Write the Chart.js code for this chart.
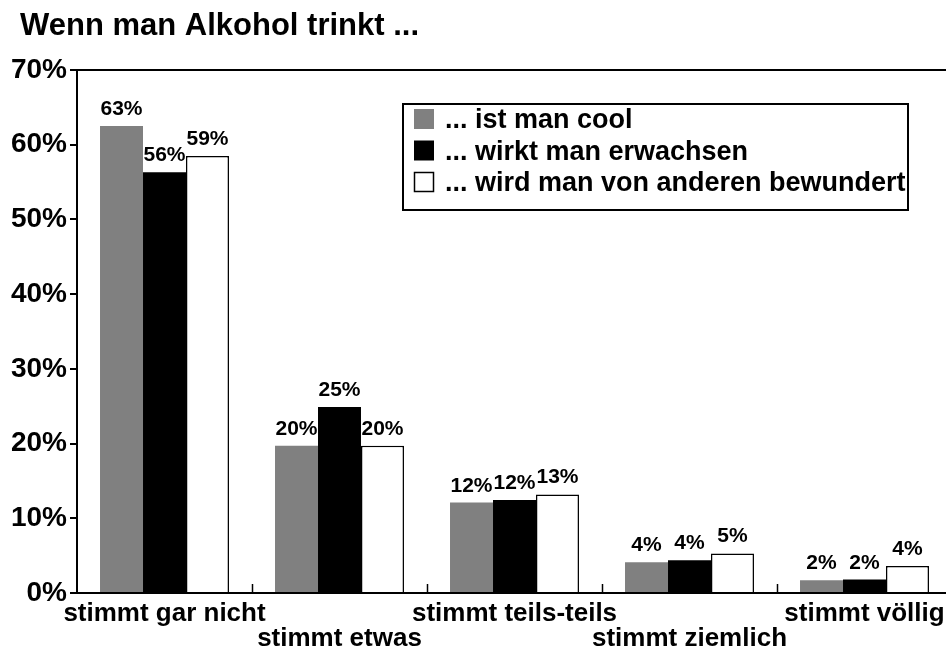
<!DOCTYPE html>
<html>
<head>
<meta charset="utf-8">
<script src="https://cdn.jsdelivr.net/npm/chart.js@4"></script>
<style>
  html, body { margin: 0; padding: 0; background: #fff; overflow: hidden; }
  #wrap { width: 946px; height: 652px; overflow: hidden; }
</style>
</head>
<body>
<div id="wrap"><canvas id="myChart" width="960" height="652"></canvas></div>
<script>
var title = 'Wenn man Alkohol trinkt ...';
var categories = ['stimmt gar nicht', 'stimmt etwas', 'stimmt teils-teils', 'stimmt ziemlich', 'stimmt völlig'];
var seriesNames = ['... ist man cool', '... wirkt man erwachsen', '... wird man von anderen bewundert'];
var cool = [62.5, 19.7, 12.1, 4.1, 1.7];
var erwachsen = [56.3, 24.9, 12.45, 4.4, 1.8];
var bewundert = [58.5, 19.7, 13.2, 5.3, 3.6];
// printed labels above the bars
var coolLabels = ['63%', '20%', '12%', '4%', '2%'];
var erwachsenLabels = ['56%', '25%', '12%', '4%', '2%'];
var bewundertLabels = ['59%', '20%', '13%', '5%', '4%'];
var yTicks = [0, 10, 20, 30, 40, 50, 60, 70];

var FONT = "'Liberation Sans', Arial, sans-serif";
Chart.defaults.font.family = FONT;
Chart.defaults.font.weight = 'bold';
Chart.defaults.color = '#000';

var extras = {
    id: 'extras',
    afterDatasetsDraw: function (chart) {
        var ctx = chart.ctx;
        ctx.save();
        ctx.font = 'bold 21px ' + FONT;
        ctx.fillStyle = '#000';
        ctx.textAlign = 'center';
        ctx.textBaseline = 'alphabetic';
        chart.data.datasets.forEach(function (ds, di) {
            chart.getDatasetMeta(di).data.forEach(function (bar, i) {
                ctx.fillText(ds.valueLabels[i], bar.x, bar.y - 11);
            });
        });
        // small inward tick marks between the categories
        var x = chart.scales.x;
        ctx.strokeStyle = '#000';
        ctx.lineWidth = 1.5;
        for (var i = 0; i < categories.length - 1; i++) {
            var px = Math.round((x.getPixelForValue(i) + x.getPixelForValue(i + 1)) / 2) + 0.5;
            ctx.beginPath();
            ctx.moveTo(px, chart.chartArea.bottom);
            ctx.lineTo(px, chart.chartArea.bottom - 9);
            ctx.stroke();
        }
        ctx.restore();
    },
    afterDraw: function (chart) {
        var ctx = chart.ctx;
        ctx.save();
        // title
        ctx.fillStyle = '#000';
        ctx.font = 'bold 31px ' + FONT;
        ctx.textAlign = 'left';
        ctx.textBaseline = 'alphabetic';
        ctx.fillText(title, 20, 35);
        // legend box
        ctx.strokeStyle = '#000';
        ctx.lineWidth = 2;
        ctx.strokeRect(403, 104, 505, 106);
        ctx.font = 'bold 27px ' + FONT;
        chart.data.datasets.forEach(function (ds, i) {
            var cy = 119 + i * 31.5;
            ctx.fillStyle = ds.backgroundColor;
            ctx.fillRect(414, cy - 10, 20, 20);
            if (ds.borderWidth) {
                ctx.lineWidth = 1.5;
                ctx.strokeRect(414.5, cy - 9.5, 19, 19);
            }
            ctx.fillStyle = '#000';
            ctx.fillText(ds.label, 445, cy + 9);
        });
        ctx.restore();
    }
};

var ctx = document.getElementById('myChart').getContext('2d');
var myChart = new Chart(ctx, {
    type: 'bar',
    data: {
        labels: categories,
        datasets: [{
            label: seriesNames[0],
            data: cool,
            valueLabels: coolLabels,
            backgroundColor: '#808080',
            borderWidth: 0
        }, {
            label: seriesNames[1],
            data: erwachsen,
            valueLabels: erwachsenLabels,
            backgroundColor: '#000000',
            borderWidth: 0
        }, {
            label: seriesNames[2],
            data: bewundert,
            valueLabels: bewundertLabels,
            backgroundColor: '#ffffff',
            borderColor: '#000000',
            borderWidth: 1.5
        }]
    },
    options: {
        responsive: false,
        animation: false,
        categoryPercentage: 0.737,
        barPercentage: 1.0,
        layout: {
            padding: { left: 0, right: 8, top: 70, bottom: 0 }
        },
        scales: {
            y: {
                min: 0,
                max: 70,
                afterFit: function (s) { s.width = 77; },
                afterBuildTicks: function (s) {
                    s.ticks = yTicks.map(function (v) { return { value: v }; });
                },
                ticks: {
                    padding: 3,
                    font: { size: 28, weight: 'bold' },
                    color: '#000',
                    callback: function (v) { return v + '%'; }
                },
                grid: {
                    color: function (c) { return c.tick && c.tick.value === 70 ? '#000' : 'rgba(0,0,0,0)'; },
                    lineWidth: 2,
                    tickColor: '#000',
                    tickLength: 7
                },
                border: { color: '#000', width: 2 }
            },
            x: {
                afterFit: function (s) { s.height = 59; },
                ticks: {
                    padding: 8,
                    autoSkip: false,
                    maxRotation: 0,
                    minRotation: 0,
                    font: { size: 26, weight: 'bold', lineHeight: '25px' },
                    color: '#000',
                    callback: function (v, i) { return i % 2 ? ['', categories[i]] : categories[i]; }
                },
                grid: { display: false, drawTicks: false },
                border: { color: '#000', width: 2 }
            }
        },
        plugins: {
            legend: { display: false },
            tooltip: { enabled: false },
            title: { display: false }
        }
    },
    plugins: [extras]
});
</script>
</body>
</html>
